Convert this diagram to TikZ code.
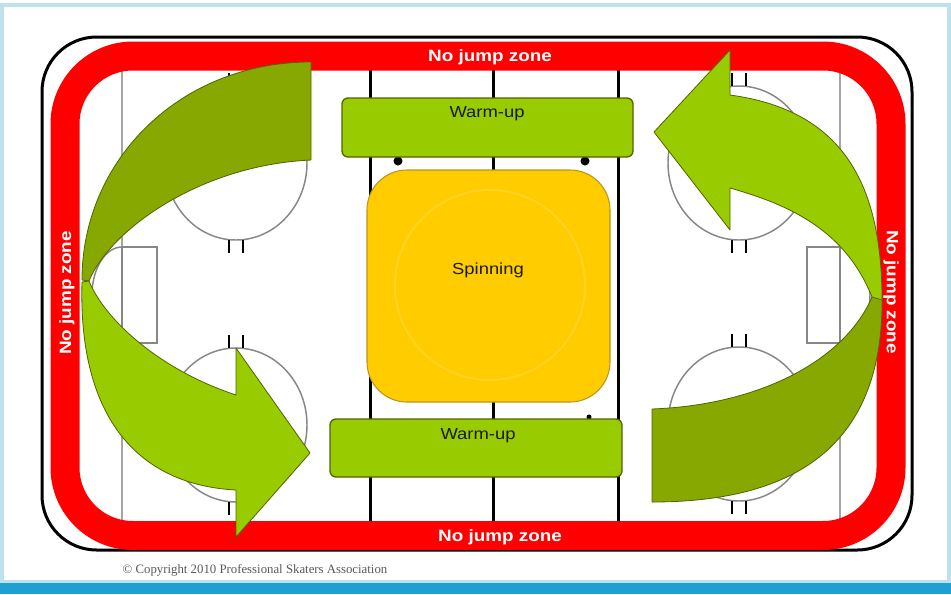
\documentclass[tikz,border=0pt]{standalone}
\usepackage{fontspec}
\setmainfont{Liberation Sans}
\newfontfamily\rinkfont[FakeStretch=1.15]{Liberation Sans}
\newfontfamily\notefont{Liberation Serif}
\usetikzlibrary{fit}
\definecolor{rinkred}{RGB}{255,0,0}
\definecolor{rinkgray}{RGB}{135,135,135}
\definecolor{lightgoal}{RGB}{165,165,165}
\definecolor{greenfront}{RGB}{153,204,0}
\definecolor{greenback}{RGB}{134,168,0}
\definecolor{greenedge}{RGB}{80,100,0}
\definecolor{spinyellow}{RGB}{255,204,0}
\definecolor{spinedge}{RGB}{185,150,30}
\definecolor{spinring}{RGB}{255,211,35}
\definecolor{framelight}{RGB}{190,225,240}
\definecolor{frameblue}{RGB}{30,160,210}

\begin{document}
\begin{tikzpicture}[x=0.75pt,y=-0.75pt,
  zonetext/.style={text=white,inner sep=0pt,font=\rinkfont\bfseries\fontsize{12.3}{14}\selectfont},
  boxtext/.style={inner sep=0pt,text=black!90,font=\rinkfont\fontsize{12}{14}\selectfont},
  warmbox/.style={draw=greenedge,fill=greenfront,line width=1pt,rounded corners=4.5pt,inner sep=0pt},
  spinbox/.style={draw=spinedge,fill=spinyellow,line width=0.8pt,rounded corners=30pt,inner sep=0pt},
  arrowfront/.style={fill=greenfront,draw=greenedge,line width=0.6pt,line join=round},
  arrowback/.style={fill=greenback,draw=greenedge,line width=0.6pt,line join=round},
  faceoff/.style={draw=rinkgray,line width=1.1pt},
  hash/.style={draw=black,line width=2.2pt},
  blueline/.style={draw=black,line width=2.25pt}]
\useasboundingbox (0,0) rectangle (951,594);
\fill[white] (0,0) rectangle (951,594);
% frame of the page
\draw[framelight,line width=2.5pt] (2,594) -- (2,5) -- (949,5) -- (949,594);
\fill[framelight] (0,580) rectangle (951,583);
\fill[frameblue] (0,583) rectangle (951,594);

% boards
\draw[black,line width=2.25pt,rounded corners=41pt] (42,37) rectangle (912,550);

% goal lines, nets and creases
\draw[lightgoal,line width=1.5pt] (122,70) -- (122,521);
\draw[lightgoal,line width=1.5pt] (840,70) -- (840,521);
\draw[rinkgray,line width=1.1pt] (122,247) arc[start angle=-90,end angle=-270,x radius=30,y radius=48];
\draw[rinkgray,line width=1.1pt] (840,247) arc[start angle=-90,end angle=90,x radius=30,y radius=48];
\draw[rinkgray,line width=1.1pt] (122,247) rectangle (157,343);
\draw[rinkgray,line width=1.1pt] (807,247) rectangle (840,343);

% faceoff circles with hash marks
\foreach \cx/\cy in {236/163,236/425,739/163,739/424}{
  \draw[faceoff] (\cx,\cy) ellipse [x radius=71,y radius=77];
  \draw[hash] (\cx-7,\cy-77) -- (\cx-7,\cy-90) (\cx+7,\cy-77) -- (\cx+7,\cy-90);
  \draw[hash] (\cx-7,\cy+77) -- (\cx-7,\cy+90) (\cx+7,\cy+77) -- (\cx+7,\cy+90);
}

% blue lines and centre line
\foreach \lx in {370,493,618}
  \draw[blueline] (\lx,70) -- (\lx,521);
\fill (398,161) circle [radius=4.5];
\fill (585,161) circle [radius=4.5];
\fill (589,417) circle [radius=2.5];

% no jump zone band
\draw[rinkred,line width=21.75pt,rounded corners=51pt] (65,56) rectangle (891,535.5);
\node[zonetext] (zonetop) at (490,57) {No jump zone};
\node[zonetext] (zonebottom) at (500,537) {No jump zone};
\node[zonetext,rotate=90] (zoneleft) at (67,293) {No jump zone};
\node[zonetext,rotate=-90] (zoneright) at (891,292) {No jump zone};

% left arrow
\filldraw[arrowback] (311,62) .. controls (180,62) and (82,160) .. (82,280) -- (89,281) .. controls (110,230) and (200,165) .. (311,160) -- cycle;
\filldraw[arrowfront] (82,282) .. controls (78,420) and (140,485) .. (236,490) -- (236,537) -- (310,453) -- (236,348) -- (236,395) .. controls (160,370) and (105,320) .. (89,281) -- cycle;

% right arrow
\filldraw[arrowback] (652,409) .. controls (760,405) and (845,360) .. (872,297) -- (882,297) .. controls (884,450) and (790,502) .. (652,502) -- cycle;
\filldraw[arrowfront] (730,95) .. controls (840,110) and (882,180) .. (882,300) -- (872,297) .. controls (845,230) and (790,205) .. (730,188) -- (730,230) -- (654,132) -- (730,50) -- cycle;

% zones
\node[warmbox,fit={(342,98) (633,157)}] (warmtop) {};
\node[boxtext] (warmtoplabel) at (487,114) {Warm-up};
\node[spinbox,fit={(367,170) (610,402)}] (spin) {};
\draw[spinring,line width=1.5pt] (490,285) circle [radius=95];
\node[boxtext] (spinlabel) at (488,270) {Spinning};
\node[warmbox,fit={(330,419) (622,477)}] (warmbottom) {};
\node[boxtext] (warmbottomlabel) at (478,436) {Warm-up};

\node[text=black!65,inner sep=0pt,font=\notefont\fontsize{9.6}{11}\selectfont] (copy) at (255,570) {© Copyright 2010 Professional Skaters Association};
\end{tikzpicture}
\end{document}
